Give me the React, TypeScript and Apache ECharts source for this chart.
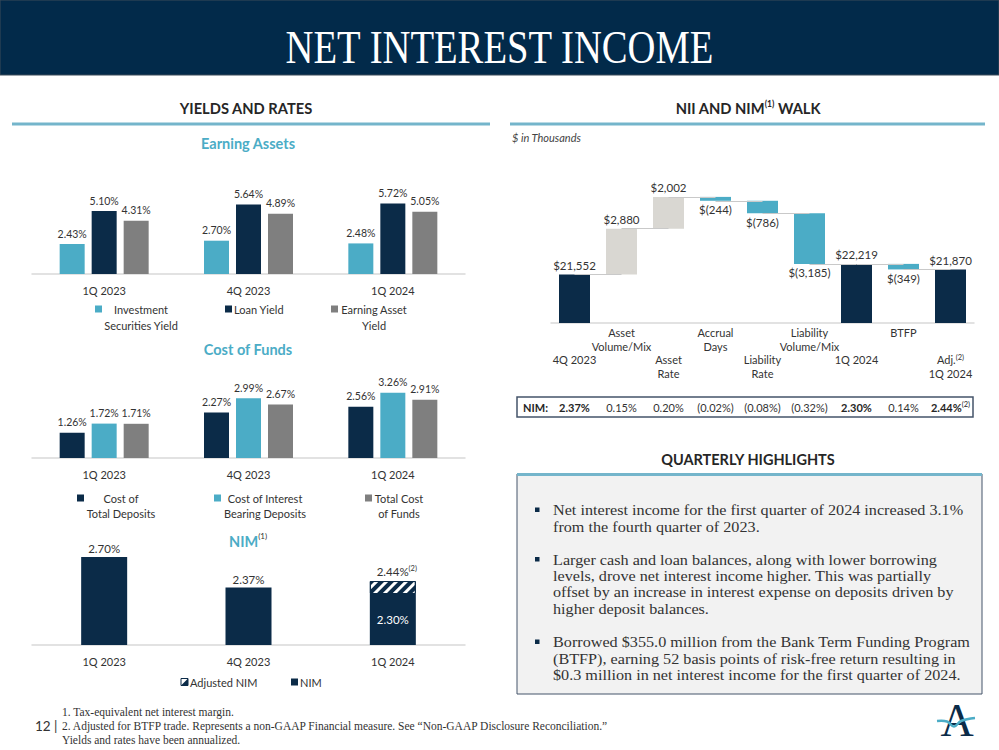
import React, { useEffect, useRef } from 'react';
import * as echarts from 'echarts';

// ---------------- data ----------------
const quarters = ['1Q 2023', '4Q 2023', '1Q 2024'];

const investmentSecuritiesYield = [2.43, 2.7, 2.48];
const loanYield = [5.1, 5.64, 5.72];
const earningAssetYield = [4.31, 4.89, 5.05];
const earningLegend = ['Investment\nSecurities Yield', 'Loan Yield', 'Earning Asset\nYield'];

const costOfTotalDeposits = [1.26, 2.27, 2.56];
const costOfInterestBearingDeposits = [1.72, 2.99, 3.26];
const totalCostOfFunds = [1.71, 2.67, 2.91];
const costLegend = ['Cost of\nTotal Deposits', 'Cost of Interest\nBearing Deposits', 'Total Cost\nof Funds'];

const nimValues = [2.7, 2.37, 2.3];
const adjustedNimValues: (number | null)[] = [null, null, 2.44];
const nimLegend = ['Adjusted NIM', 'NIM'];

const walkLabels = ['4Q 2023', 'Asset\nVolume/Mix', 'Asset\nRate', 'Accrual\nDays', 'Liability\nRate', 'Liability\nVolume/Mix', '1Q 2024', 'BTFP', 'Adj.\n1Q 2024'];
const walkValues = [21552, 2880, 2002, -244, -786, -3185, 22219, -349, 21870];
const walkIsTotal = [true, false, false, false, false, false, true, false, true];
const walkNim = ['2.37%', '0.15%', '0.20%', '(0.02%)', '(0.08%)', '(0.32%)', '2.30%', '0.14%', '2.44%'];

const highlights = [
  ['Net interest income for the first quarter of 2024 increased 3.1%', 'from the fourth quarter of 2023.'],
  ['Larger cash and loan balances, along with lower borrowing', 'levels, drove net interest income higher. This was partially', 'offset by an increase in interest expense on deposits driven by', 'higher deposit balances.'],
  ['Borrowed $355.0 million from the Bank Term Funding Program', '(BTFP), earning 52 basis points of risk-free return resulting in', '$0.3 million in net interest income for the first quarter of 2024.'],
];
const footnotes = [
  '1. Tax-equivalent net interest margin.',
  '2. Adjusted for BTFP trade. Represents a non-GAAP Financial measure. See \u201CNon-GAAP Disclosure Reconciliation.\u201D',
  'Yields and rates have been annualized.',
];

// ---------------- styles ----------------
const NAVY = '#0B2B48';
const HEADER = '#022A4A';
const TEAL = '#4BACC6';
const GRAY = '#7F7F7F';
const WARM = '#D9D7D2';
const TEXT = '#333333';
const RULE = '#74B5CB';
const SANS = 'Lato';
const SERIF = 'Liberation Serif';

function buildOption() {
  // waterfall stacking
  const base: number[] = [];
  const vis: any[] = [];
  const levels: number[] = [];
  let running = 0;
  walkValues.forEach((v, i) => {
    const color = walkIsTotal[i] ? NAVY : v >= 0 ? WARM : TEAL;
    if (walkIsTotal[i]) {
      base.push(0);
      running = v;
    } else if (v >= 0) {
      base.push(running);
      running += v;
    } else {
      running += v;
      base.push(running);
    }
    vis.push({
      value: Math.abs(v),
      itemStyle: { color },
      label: { position: v < 0 ? 'bottom' : 'top' },
    });
    levels.push(running);
  });
  const connectors = levels.slice(0, -1).map((lv, i) => [{ coord: [i, lv] }, { coord: [i + 1, lv] }]);
  const money = (v: number) =>
    v < 0 ? `$(${Math.abs(v).toLocaleString('en-US')})` : `$${v.toLocaleString('en-US')}`;

  const g: any[] = [];
  const text = (x: number, y: number, t: string, o: any = {}) => {
    const style: any = {
      text: t,
      fill: o.fill ?? TEXT,
      fontFamily: o.font ?? SANS,
      fontSize: o.size ?? 11,
      fontWeight: o.weight ?? 'normal',
      fontStyle: o.fstyle ?? 'normal',
      textAlign: o.align ?? 'left',
      align: o.align ?? 'left',
      textVerticalAlign: o.va ?? 'middle',
      verticalAlign: o.va ?? 'middle',
    };
    if (o.lh) style.lineHeight = o.lh;
    if (o.rich) style.rich = o.rich;
    const el: any = { type: 'text', x, y, silent: true, z: 10, style };
    if (o.scaleX) el.scaleX = o.scaleX;
    g.push(el);
  };
  const rect = (x: number, y: number, w: number, h: number, style: any, z = 5) =>
    g.push({ type: 'rect', silent: true, z, shape: { x, y, width: w, height: h }, style });
  const line = (x1: number, y1: number, x2: number, y2: number, stroke: string, lw: number) =>
    g.push({ type: 'line', silent: true, z: 6, shape: { x1, y1, x2, y2 }, style: { stroke, lineWidth: lw } });

  // header
  rect(0, 0, 999, 75, { fill: HEADER, stroke: '#3b4b59', lineWidth: 1 });
  text(499.5, 47, 'NET INTEREST INCOME', { fill: '#ffffff', font: SERIF, size: 46, align: 'center', scaleX: 0.84 });

  // section headings
  text(246, 108, 'YIELDS AND RATES', { size: 14.7, weight: 'bold', align: 'center', fill: '#262626' });
  line(12, 124, 490, 124, RULE, 3);
  text(748, 108, '{b|NII AND NIM}{s|(1)}{b| WALK}', {
    align: 'center',
    rich: {
      b: { fontSize: 14.7, fontWeight: 'bold', fill: '#262626', fontFamily: SANS, lineHeight: 17 },
      s: { fontSize: 8.5, fontWeight: 'bold', fill: '#262626', fontFamily: SANS, lineHeight: 9, verticalAlign: 'top' },
    },
  });
  line(510, 124, 985, 124, RULE, 3);

  // left chart titles
  text(248, 143, 'Earning Assets', { size: 14.5, weight: 'bold', fill: TEAL, align: 'center' });
  text(248, 349, 'Cost of Funds', { size: 14.5, weight: 'bold', fill: TEAL, align: 'center' });
  text(248, 541, '{t|NIM}{s|(1)}', {
    align: 'center',
    rich: {
      t: { fontSize: 14.5, fontWeight: 'bold', fill: TEAL, fontFamily: SANS, lineHeight: 18 },
      s: { fontSize: 8, fill: TEXT, fontFamily: SANS, lineHeight: 9, verticalAlign: 'top' },
    },
  });

  // legends
  const sq = (x: number, y: number, fill: string) => rect(x, y - 3.5, 7, 7, { fill });
  sq(95, 309, TEAL);
  text(141, 301, earningLegend[0], { size: 11, align: 'center', va: 'top', lh: 16 });
  sq(225, 309, NAVY);
  text(234, 309, earningLegend[1], { size: 11 });
  sq(331, 309, GRAY);
  text(374, 301, earningLegend[2], { size: 11, align: 'center', va: 'top', lh: 16 });

  sq(77, 498, NAVY);
  text(121, 490.5, costLegend[0], { size: 11, align: 'center', va: 'top', lh: 15 });
  sq(214, 498, TEAL);
  text(265, 490.5, costLegend[1], { size: 11, align: 'center', va: 'top', lh: 15 });
  sq(365, 498, GRAY);
  text(399, 490.5, costLegend[2], { size: 11, align: 'center', va: 'top', lh: 15 });

  rect(181, 678.5, 7, 7, { fill: '#fff', stroke: NAVY, lineWidth: 1 });
  g.push({ type: 'polygon', silent: true, z: 6, shape: { points: [[188, 678.5], [188, 685.5], [181, 685.5]] }, style: { fill: NAVY } });
  text(190, 682, nimLegend[0], { size: 11 });
  sq(291, 682, NAVY);
  text(300, 682, nimLegend[1], { size: 11 });

  // waterfall notes
  text(512, 137, '$ in Thousands', { size: 11, fstyle: 'italic', fill: '#444' });
  rect(517, 397, 456, 20, { fill: 'none', stroke: '#44546A', lineWidth: 1.5 }, -1);
  text(523, 407, 'NIM:', { size: 11, weight: 'bold', fill: '#262626' });

  // highlights
  text(748, 459, 'QUARTERLY HIGHLIGHTS', { size: 14.5, weight: 'bold', align: 'center', fill: '#262626' });
  rect(517, 474, 465, 220, { fill: '#F2F2F2', stroke: '#44546A', lineWidth: 1 });
  line(517, 474.5, 982, 474.5, RULE, 3);
  const starts = [510, 559.5, 642];
  highlights.forEach((para, pi) => {
    rect(535, starts[pi] - 2.5, 4.5, 4.5, { fill: NAVY });
    para.forEach((ln, li) => {
      text(553, starts[pi] + li * 16.4, ln, { font: SERIF, size: 14.2, scaleX: 1.14, fill: '#333' });
    });
  });

  // footer
  text(35, 726, '12 |', { size: 13.5, fill: '#333' });
  footnotes.forEach((f, i) => text(62, 712 + i * 14, f, { font: SERIF, size: 11.5, fill: '#333' }));

  // logo
  text(957, 720, 'A', { font: SERIF, size: 46, fill: NAVY, align: 'center' });
  g.push({
    type: 'polyline', silent: true, z: 11,
    shape: { points: [[937, 721], [947, 721.5], [954, 726.5], [961, 721], [975, 718]], smooth: 0.4 },
    style: { stroke: TEAL, lineWidth: 2.5, fill: null },
  });

  const catAxis = (gridIndex: number) => ({
    type: 'category', gridIndex, data: quarters,
    axisLine: { show: true, lineStyle: { color: '#D9D9D9', width: 1.5 } },
    axisTick: { show: false },
    axisLabel: { fontFamily: SANS, fontSize: 11, color: TEXT, margin: 11, interval: 0 },
  });
  const valAxis = (gridIndex: number, min: number, max: number) => ({
    type: 'value', gridIndex, min, max, show: false, splitLine: { show: false },
  });
  const pctLabel = {
    show: true, position: 'top', distance: 5, fontFamily: SANS, fontSize: 10.5, color: TEXT,
    formatter: (p: any) => Number(p.value).toFixed(2) + '%',
  };
  const groupBar = (name: string, data: number[], color: string, idx: number) => ({
    type: 'bar', name, data, xAxisIndex: idx, yAxisIndex: idx, barWidth: 25, barGap: '28%',
    itemStyle: { color }, label: pctLabel, silent: true,
  });

  const gridBase = { outerBoundsMode: 'none', containLabel: false };

  return {
    animation: false,
    backgroundColor: '#ffffff',
    textStyle: { fontFamily: SANS },
    grid: [
      { ...gridBase, left: 32, width: 433, top: 200, height: 74 },
      { ...gridBase, left: 32, width: 433, top: 378, height: 80 },
      { ...gridBase, left: 32, width: 433, top: 543, height: 102 },
      { ...gridBase, left: 551, width: 423, top: 172, height: 151 },
    ],
    xAxis: [
      catAxis(0),
      catAxis(1),
      catAxis(2),
      {
        type: 'category', gridIndex: 3, data: walkLabels,
        axisLine: { show: true, lineStyle: { color: '#D9D9D9', width: 1.5 } },
        axisTick: { show: false },
        axisLabel: {
          interval: 0, margin: 3, fontFamily: SANS, fontSize: 11, color: TEXT, lineHeight: 13.5,
          hideOverlap: false,
          formatter: (val: string, idx: number) => {
            let s: string;
            if (idx === 8) {
              const [a, b] = val.split('\n');
              s = `{t|${a}}{s|(2)}\n{t|${b}}`;
            } else {
              s = val.split('\n').map((l) => `{t|${l}}`).join('\n');
            }
            return idx % 2 === 0 ? '{t| }\n{t| }\n' + s : s;
          },
          rich: {
            t: { fontFamily: SANS, fontSize: 11, color: TEXT, lineHeight: 13.5 },
            s: { fontFamily: SANS, fontSize: 7.5, color: TEXT, lineHeight: 8, verticalAlign: 'top' },
          },
        },
      },
      {
        type: 'category', gridIndex: 3, data: walkNim, position: 'bottom', offset: 78,
        axisLine: { show: false }, axisTick: { show: false },
        axisLabel: {
          interval: 0, margin: 6, verticalAlign: 'middle', hideOverlap: false,
          formatter: (val: string, idx: number) =>
            walkIsTotal[idx] ? (idx === 8 ? `{b|${val}}{s|(2)}` : `{b|${val}}`) : `{n|${val}}`,
          rich: {
            b: { fontFamily: SANS, fontSize: 11, fontWeight: 'bold', color: '#262626', lineHeight: 13 },
            n: { fontFamily: SANS, fontSize: 11, color: TEXT, lineHeight: 13 },
            s: { fontFamily: SANS, fontSize: 7.5, color: '#262626', lineHeight: 7, verticalAlign: 'top' },
          },
        },
      },
    ],
    yAxis: [
      valAxis(0, 0, 6),
      valAxis(1, 0, 4),
      valAxis(2, 1.75, 2.85),
      valAxis(3, 18500, 28000),
    ],
    series: [
      groupBar('Investment Securities Yield', investmentSecuritiesYield, TEAL, 0),
      groupBar('Loan Yield', loanYield, NAVY, 0),
      groupBar('Earning Asset Yield', earningAssetYield, GRAY, 0),
      groupBar('Cost of Total Deposits', costOfTotalDeposits, NAVY, 1),
      groupBar('Cost of Interest Bearing Deposits', costOfInterestBearingDeposits, TEAL, 1),
      groupBar('Total Cost of Funds', totalCostOfFunds, GRAY, 1),
      {
        type: 'bar', name: 'NIM', stack: 'nim', xAxisIndex: 2, yAxisIndex: 2, barWidth: 46, silent: true,
        itemStyle: { color: NAVY },
        data: nimValues.map((v, i) =>
          adjustedNimValues[i] != null
            ? { value: v, label: { position: 'inside', color: '#ffffff' } }
            : v),
        label: { ...pctLabel, fontSize: 11.5, distance: 2 },
      },
      {
        type: 'bar', name: 'Adjusted NIM', stack: 'nim', xAxisIndex: 2, yAxisIndex: 2, barWidth: 46, silent: true,
        itemStyle: {
          color: '#ffffff', borderColor: NAVY, borderWidth: 1,
          decal: { symbol: 'rect', symbolSize: 1, color: NAVY, dashArrayX: [1, 0], dashArrayY: [4, 3], rotation: -Math.PI / 4 },
        },
        data: adjustedNimValues.map((a, i) => (a == null ? null : +(a - nimValues[i]).toFixed(2))),
        label: {
          show: true, position: 'top', distance: 2, offset: [4, 0],
          formatter: (p: any) => `{v|${Number(adjustedNimValues[p.dataIndex]).toFixed(2)}%}{s|(2)}`,
          rich: {
            v: { fontFamily: SANS, fontSize: 11.5, color: TEXT, lineHeight: 15 },
            s: { fontFamily: SANS, fontSize: 7.5, color: TEXT, lineHeight: 7, verticalAlign: 'top' },
          },
        },
      },
      {
        type: 'bar', name: 'base', stack: 'walk', xAxisIndex: 3, yAxisIndex: 3, barWidth: 31, silent: true,
        itemStyle: { color: 'rgba(0,0,0,0)' }, data: base,
      },
      {
        type: 'bar', name: 'NII walk', stack: 'walk', xAxisIndex: 3, yAxisIndex: 3, barWidth: 31, silent: true,
        data: vis,
        label: {
          show: true, distance: 3, fontFamily: SANS, fontSize: 11.5, color: TEXT,
          formatter: (p: any) => money(walkValues[p.dataIndex]),
        },
        markLine: {
          silent: true, symbol: ['none', 'none'], label: { show: false },
          lineStyle: { color: '#C9C9C9', width: 1, type: 'solid' },
          emphasis: { disabled: true },
          data: connectors,
        },
      },
    ],
    graphic: { elements: g },
  };
}

export default function App() {
  const ref = useRef<HTMLDivElement>(null);
  useEffect(() => {
    document.body.style.margin = '0';
    const chart = echarts.init(ref.current!, null, { renderer: 'svg' });
    chart.setOption(buildOption() as any);
    return () => chart.dispose();
  }, []);
  return (
    <div
      ref={ref}
      style={{ position: 'absolute', left: 0, top: 0, width: 999, height: 750, background: '#fff' }}
    />
  );
}
